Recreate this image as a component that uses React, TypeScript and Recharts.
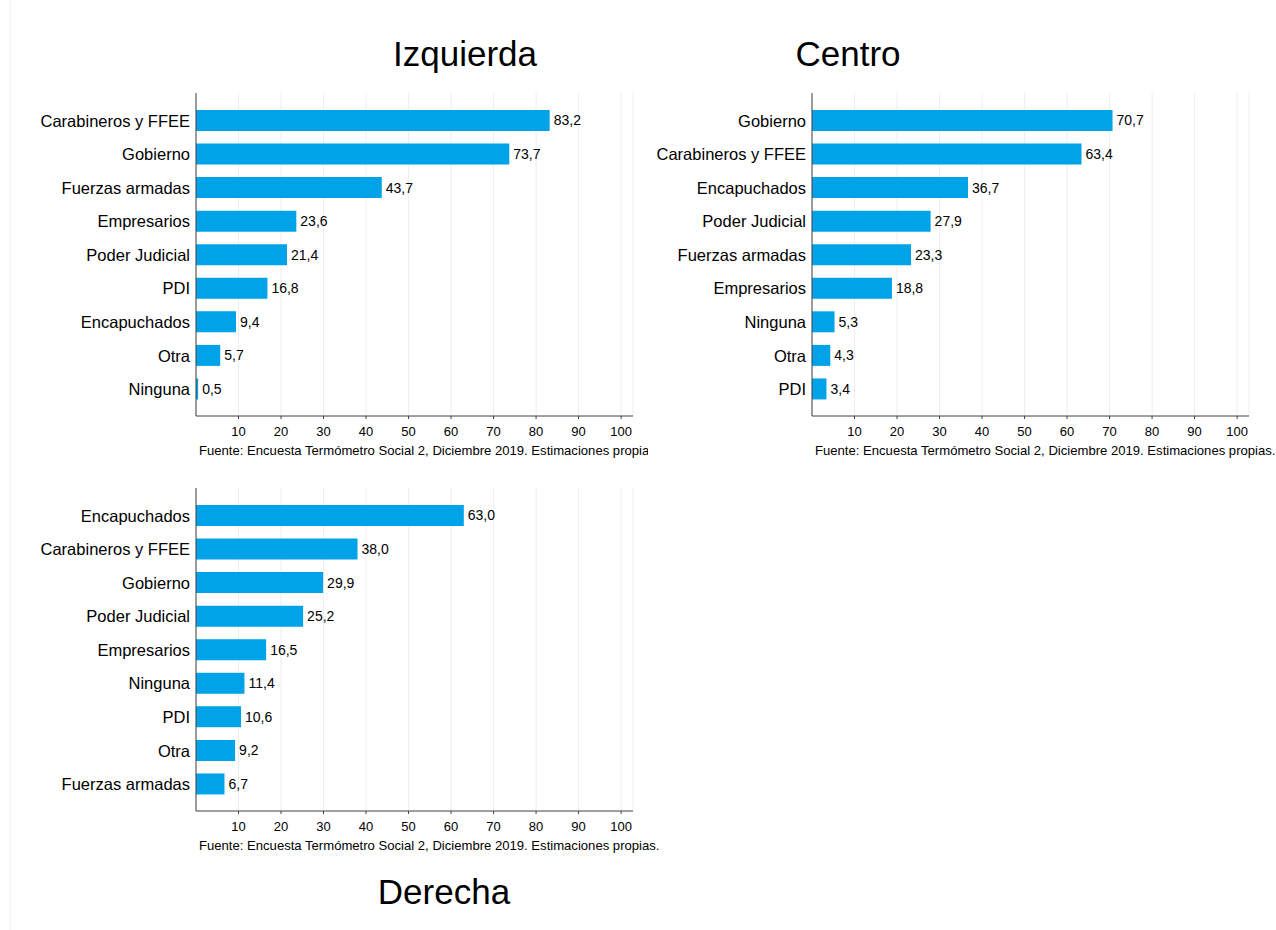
import React from "react";
import { BarChart, Bar, XAxis, YAxis, CartesianGrid, LabelList } from "recharts";

const izqCats = ["Carabineros y FFEE", "Gobierno", "Fuerzas armadas", "Empresarios", "Poder Judicial", "PDI", "Encapuchados", "Otra", "Ninguna"];
const izqVals = [83.2, 73.7, 43.7, 23.6, 21.4, 16.8, 9.4, 5.7, 0.5];

const cenCats = ["Gobierno", "Carabineros y FFEE", "Encapuchados", "Poder Judicial", "Fuerzas armadas", "Empresarios", "Ninguna", "Otra", "PDI"];
const cenVals = [70.7, 63.4, 36.7, 27.9, 23.3, 18.8, 5.3, 4.3, 3.4];

const derCats = ["Encapuchados", "Carabineros y FFEE", "Gobierno", "Poder Judicial", "Empresarios", "Ninguna", "PDI", "Otra", "Fuerzas armadas"];
const derVals = [63.0, 38.0, 29.9, 25.2, 16.5, 11.4, 10.6, 9.2, 6.7];

const xTicks = [10, 20, 30, 40, 50, 60, 70, 80, 90, 100];
const sourceNote = "Fuente: Encuesta Termómetro Social 2, Diciembre 2019. Estimaciones propias.";

const FONT = "'Liberation Sans', Arial, Helvetica, sans-serif";
const BAR = "#00a2e8";
const AXIS = "#404040";
const GRID = "#e9eff2";

const fmt = (v: any) => Number(v).toFixed(1).replace(".", ",");

function Panel({ cats, vals, left, top, noteWidth }: { cats: string[]; vals: number[]; left: number; top: number; noteWidth?: number }) {
  const data = cats.map((c, i) => ({ name: c, value: vals[i] }));
  return (
    <div style={{ position: "absolute", left, top }}>
      <BarChart
        width={660}
        height={470}
        data={data}
        layout="vertical"
        margin={{ top: 93, right: 27, left: 0, bottom: 24 }}
      >
        <CartesianGrid horizontal={false} vertical={true} stroke={GRID} strokeWidth={1} />
        <XAxis
          type="number"
          domain={[0, 102.8]}
          ticks={xTicks}
          tickLine={{ stroke: AXIS, strokeWidth: 1 }}
          tickSize={3}
          axisLine={{ stroke: AXIS, strokeWidth: 1 }}
          tick={{ fontSize: 13, fill: "#000", fontFamily: FONT }}
          tickMargin={8}
          height={30}
          interval={0}
        />
        <YAxis
          type="category"
          dataKey="name"
          width={196}
          tickLine={false}
          axisLine={{ stroke: AXIS, strokeWidth: 1 }}
          tick={{ fontSize: 16.5, fill: "#000", fontFamily: FONT }}
          tickMargin={0}
          interval={0}
          padding={{ top: 11, bottom: 10 }}
        />
        <Bar dataKey="value" fill={BAR} barSize={21} isAnimationActive={false}>
          <LabelList
            dataKey="value"
            position="right"
            offset={4}
            formatter={fmt}
            style={{ fontSize: 14, fill: "#000", fontFamily: FONT }}
          />
        </Bar>
      </BarChart>
      <div
        style={{
          position: "absolute",
          left: 199,
          top: 443,
          width: noteWidth ?? 470,
          overflow: "hidden",
          whiteSpace: "nowrap",
          fontSize: 13.1,
          fontFamily: FONT,
          color: "#000",
        }}
      >
        {sourceNote}
      </div>
    </div>
  );
}

function Title({ text, cx, top }: { text: string; cx: number; top: number }) {
  return (
    <div
      style={{
        position: "absolute",
        left: cx - 150,
        top,
        width: 300,
        textAlign: "center",
        fontSize: 35,
        lineHeight: "35px",
        fontFamily: FONT,
        color: "#000",
      }}
    >
      {text}
    </div>
  );
}

export default function App() {
  return (
    <div
      style={{
        position: "absolute",
        left: 0,
        top: 0,
        width: 1276,
        height: 930,
        background: "#fff",
        overflow: "hidden",
        fontFamily: FONT,
      }}
    >
      <div style={{ position: "absolute", left: 10, top: 0, width: 1, height: 930, background: "#eef3f5" }} />
      <Title text="Izquierda" cx={465} top={36} />
      <Title text="Centro" cx={848} top={36} />
      <Title text="Derecha" cx={444} top={874} />
      <Panel cats={izqCats} vals={izqVals} left={0} top={0} noteWidth={449} />
      <Panel cats={cenCats} vals={cenVals} left={616} top={0} />
      <Panel cats={derCats} vals={derVals} left={0} top={395} />
    </div>
  );
}
